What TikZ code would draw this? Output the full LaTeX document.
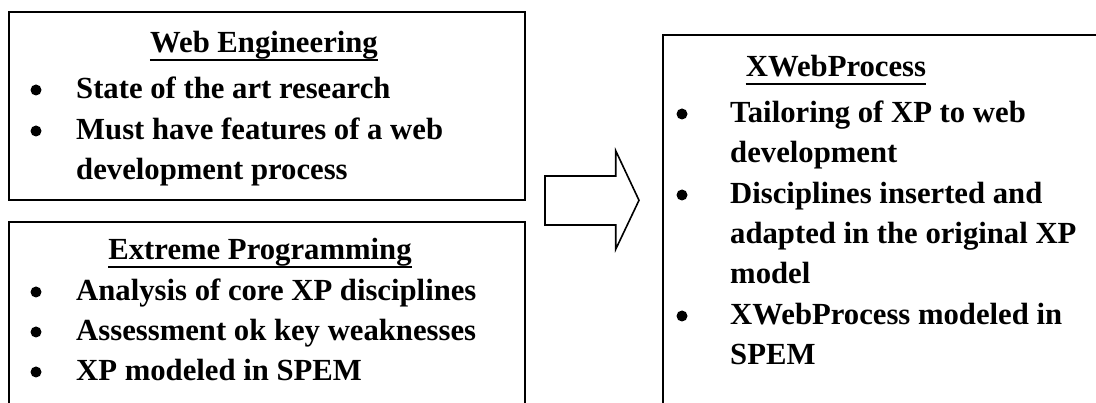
\documentclass[tikz,border=0pt]{standalone}
\usepackage{fontspec}
\setmainfont{Liberation Serif}
\begin{document}
\begin{tikzpicture}[x=1pt,y=-1pt,
  box/.style={draw,line width=2pt,anchor=north west,inner sep=0pt},
  txt/.style={anchor=base west,inner sep=0pt,font=\fontsize{30.7}{36}\selectfont\bfseries},
  head/.style={anchor=base,inner sep=0pt,font=\fontsize{30.7}{36}\selectfont\bfseries},
  bul/.style={circle,fill=black,inner sep=0pt,minimum size=11pt},
  uline/.style={line width=2pt},
  bigarrow/.style={draw,line width=1.6pt,line join=miter}]
\useasboundingbox (0,0) rectangle (1096,403);
\clip (0,0) rectangle (1096,403);
% boxes
\node[box,minimum width=515.4pt,minimum height=188.3pt] (box1) at (8.3,10.7) {};
\node[box,minimum width=515.4pt,minimum height=220pt] (box2) at (8.3,220.7) {};
\node[box,minimum width=460pt,minimum height=400pt] (box3) at (661.7,33.7) {};
% box 1
\node[head] (h1) at (264,53) {Web Engineering};
\draw[uline] ([yshift=-7pt]h1.base west) -- ([yshift=-7pt]h1.base east);
\node[bul] (b11) at (36,90) {};
\node[txt] (t11) at (76,99) {State of the art research};
\node[bul] (b12) at (36,131) {};
\node[txt] (t12) at (76,140) {Must have features of a web};
\node[txt] (t13) at (76,180) {development process};
% box 2
\node[head] (h2) at (260,260) {Extreme Programming};
\draw[uline] ([yshift=-7pt]h2.base west) -- ([yshift=-7pt]h2.base east);
\node[bul] (b21) at (36,292) {};
\node[txt] (t21) at (76,301) {Analysis of core XP disciplines};
\node[bul] (b22) at (36,332) {};
\node[txt] (t22) at (76,341) {Assessment ok key weaknesses};
\node[bul] (b23) at (36,372) {};
\node[txt] (t23) at (76,381) {XP modeled in SPEM};
% box 3
\node[head] (h3) at (836,77) {XWebProcess};
\draw[uline] ([yshift=-7pt]h3.base west) -- ([yshift=-7pt]h3.base east);
\node[bul] (b31) at (682,114) {};
\node[txt] (t31) at (730,123) {Tailoring of XP to web};
\node[txt] (t32) at (730,163) {development};
\node[bul] (b32) at (682,195) {};
\node[txt] (t33) at (730,204) {Disciplines inserted and};
\node[txt] (t34) at (730,244) {adapted in the original XP};
\node[txt] (t35) at (730,284) {model};
\node[bul] (b33) at (682,316) {};
\node[txt] (t36) at (730,325) {XWebProcess modeled in};
\node[txt] (t37) at (730,365) {SPEM};
% arrow
\draw[bigarrow] (545,176) -- (615.7,176) -- (615.7,150.7) -- (639,200.3)
  -- (615.7,249.3) -- (615.7,225) -- (545,225) -- cycle;
\end{tikzpicture}
\end{document}
